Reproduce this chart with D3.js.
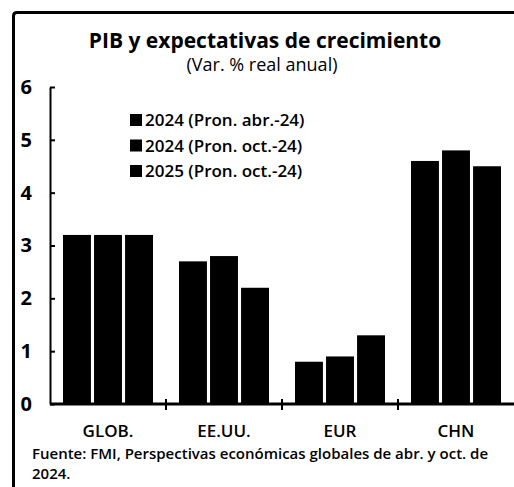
<!DOCTYPE html>
<html>
<head>
<meta charset="utf-8">
<script src="https://cdn.jsdelivr.net/npm/d3@7"></script>
<style>
  body { margin: 0; background: #fff; }
  text { font-family: "Open Sans", sans-serif; fill: #000; }
</style>
</head>
<body>
<div id="chart"></div>
<script>
// Data
const categories = ["GLOB.", "EE.UU.", "EUR", "CHN"];
const seriesNames = ["2024 (Pron. abr.-24)", "2024 (Pron. oct.-24)", "2025 (Pron. oct.-24)"];
const abr24 = [3.2, 2.7, 0.8, 4.6];
const oct24 = [3.2, 2.8, 0.9, 4.8];
const oct25 = [3.2, 2.2, 1.3, 4.5];
const yTicks = [0, 1, 2, 3, 4, 5, 6];

const width = 514,
      height = 487;

const svg = d3.select("#chart").append("svg")
    .attr("width", width)
    .attr("height", height);

// Frame: thick left edge and top edge
svg.append("path")
    .attr("d", `M13.5,${height} L13.5,16 Q13.5,12.5 17,12.5 L${width},12.5`)
    .style("fill", "none")
    .style("stroke", "#000")
    .style("stroke-width", 3);

// Title
svg.append("text")
    .attr("x", 265).attr("y", 48)
    .attr("text-anchor", "middle")
    .style("font-size", "21px")
    .style("font-weight", "700")
    .text("PIB y expectativas de crecimiento");
svg.append("text")
    .attr("x", 262).attr("y", 71)
    .attr("text-anchor", "middle")
    .style("font-size", "18px")
    .style("font-weight", "500")
    .text("(Var. % real anual)");

// Scales
const x0 = d3.scaleBand()
    .domain(categories)
    .range([50, 514])
    .padding(0);

const x1 = d3.scaleBand()
    .domain(d3.range(seriesNames.length))
    .range([13, 103])
    .paddingInner(0.1);

const y = d3.scaleLinear()
    .domain([0, 6])
    .range([404, 87]);

const series = [abr24, oct24, oct25];

// Bars
const groups = svg.selectAll(".group")
    .data(categories)
    .enter().append("g")
    .attr("class", "group")
    .attr("transform", d => `translate(${x0(d)},0)`);

groups.selectAll("rect")
    .data((d, i) => series.map((s, j) => ({ j: j, v: s[i] })))
    .enter().append("rect")
    .attr("x", d => x1(d.j))
    .attr("width", x1.bandwidth())
    .attr("y", d => y(d.v))
    .attr("height", d => y(0) - y(d.v))
    .style("fill", "#000");

// Y axis (ticks pointing inward, labels far left)
const yAxis = svg.append("g")
    .attr("transform", "translate(50,0)")
    .call(d3.axisLeft(y)
        .tickValues(yTicks)
        .tickFormat(d3.format("d"))
        .tickSizeInner(-5)
        .tickSizeOuter(0)
        .tickPadding(18));
yAxis.select(".domain").style("stroke-width", 2);
yAxis.selectAll(".tick line").style("stroke-width", 2);
yAxis.selectAll("text")
    .style("font-size", "20px")
    .style("font-weight", "700");

// X axis with separators between categories
const xAxis = svg.append("g").attr("class", "x-axis");
xAxis.append("line")
    .attr("x1", 50).attr("x2", width)
    .attr("y1", y(0)).attr("y2", y(0))
    .style("stroke", "#000").style("stroke-width", 3);
xAxis.selectAll(".sep")
    .data(categories.slice(1))
    .enter().append("line")
    .attr("class", "sep")
    .attr("x1", d => x0(d)).attr("x2", d => x0(d))
    .attr("y1", y(0) - 5).attr("y2", y(0) + 6)
    .style("stroke", "#000").style("stroke-width", 2);
xAxis.selectAll(".cat")
    .data(categories)
    .enter().append("text")
    .attr("class", "cat")
    .attr("x", d => x0(d) + x0.bandwidth() / 2)
    .attr("y", 437)
    .attr("text-anchor", "middle")
    .style("font-size", "17px")
    .style("font-weight", "600")
    .text(d => d);

// Legend
const legend = svg.append("g")
    .attr("transform", "translate(130,114)");
seriesNames.forEach((name, i) => {
    legend.append("rect")
        .attr("x", 0)
        .attr("y", i * 25.5)
        .attr("width", 12)
        .attr("height", 12)
        .style("fill", "#000");
    legend.append("text")
        .attr("x", 15)
        .attr("y", i * 25.5 + 12)
        .style("font-size", "17px")
        .style("font-weight", "600")
        .text(name);
});

// Source note
svg.append("text")
    .attr("x", 32).attr("y", 459)
    .style("font-size", "15px")
    .style("font-weight", "600")
    .text("Fuente: FMI, Perspectivas económicas globales de abr. y oct. de");
svg.append("text")
    .attr("x", 32).attr("y", 479)
    .style("font-size", "15px")
    .style("font-weight", "600")
    .text("2024.");
</script>
</body>
</html>
